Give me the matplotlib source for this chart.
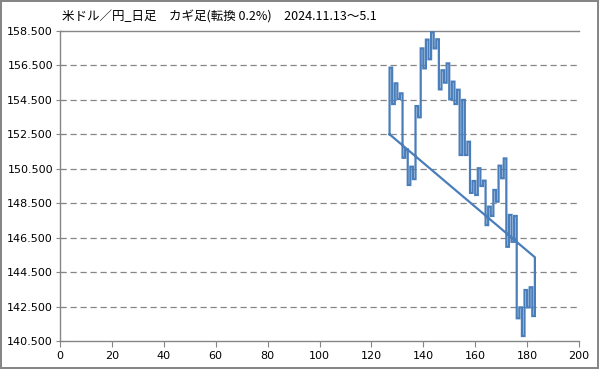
import matplotlib
matplotlib.use("Agg")
import matplotlib.pyplot as plt

# Kagi chart data: first column index and turning-point levels
start_x = 127
start_level = 152.5
levels = [156.37, 154.26, 155.46, 154.55, 154.88, 151.14, 151.63, 149.56, 150.62, 149.90,
          154.14, 153.49, 157.49, 156.33, 158.00, 156.86, 158.42, 157.49, 158.02, 155.11,
          156.22, 155.50, 156.62, 154.53, 155.56, 154.26, 155.09, 151.30, 154.50, 151.30,
          152.07, 149.10, 149.79, 148.98, 150.53, 149.50, 149.81, 147.23, 148.30, 147.76,
          149.27, 148.59, 150.68, 149.95, 151.10, 145.97, 147.82, 146.26, 147.76, 141.82,
          142.45, 140.79, 143.46, 142.45, 143.62, 141.95, 145.36]

title = "米ドル／円_日足　カギ足(転換 0.2%)　2024.11.13〜5.1"
yticks = [140.5, 142.5, 144.5, 146.5, 148.5, 150.5, 152.5, 154.5, 156.5, 158.5]
xticks = list(range(0, 201, 20))


def main():
    plt.rcParams['font.family'] = ['Noto Sans CJK JP', 'DejaVu Sans']

    # build the step path: vertical move, then one step to the right
    xs = [start_x]
    ys = [start_level]
    x = start_x
    for i, lv in enumerate(levels):
        xs.append(x)
        ys.append(lv)
        if i < len(levels) - 1:
            x += 1
            xs.append(x)
            ys.append(lv)
    # series closes back to the first point
    xs.append(start_x)
    ys.append(start_level)

    fig = plt.figure(figsize=(5.99, 3.69), dpi=100)
    fig.patch.set_edgecolor('#868686')
    fig.patch.set_linewidth(1.5)
    ax = fig.add_axes([60 / 599, 1 - 341 / 369, 519 / 599, 310 / 369])

    ax.plot(xs, ys, color='#4A7EBB', linewidth=1.6, solid_joinstyle='miter')

    ax.set_xlim(0, 200)
    ax.set_ylim(140.5, 158.5)
    ax.set_xticks(xticks)
    ax.set_yticks(yticks)
    ax.set_yticklabels(['%.3f' % v for v in yticks])
    for v in yticks[1:-1]:
        ax.axhline(v, color='#868686', linewidth=0.9, linestyle=(0, (5, 3)), zorder=0)
    ax.axhline(158.5, color='#868686', linewidth=1.0, zorder=0, clip_on=False)

    for s in ['top', 'right']:
        ax.spines[s].set_visible(False)
    for s in ['left', 'bottom']:
        ax.spines[s].set_color('#868686')
        ax.spines[s].set_linewidth(1.0)
    ax.tick_params(axis='y', direction='inout', length=6, color='#868686',
                   labelsize=8, pad=2, labelcolor='black')
    ax.tick_params(axis='x', direction='out', length=4, color='#868686',
                   labelsize=8, pad=3, labelcolor='black')
    for lab in ax.get_xticklabels() + ax.get_yticklabels():
        lab.set_family('DejaVu Sans')

    fig.text(62 / 599, 1 - 17 / 369, title, fontsize=9, va='center', ha='left')

    fig.savefig('out.png', dpi=100, edgecolor=fig.get_edgecolor())


if __name__ == "__main__":
    main()
